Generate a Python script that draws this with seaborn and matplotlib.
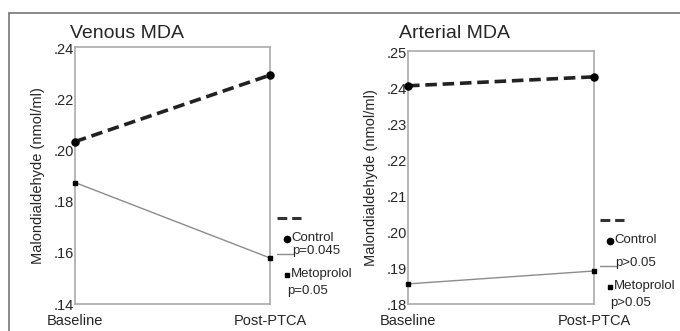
import pandas as pd
import matplotlib.pyplot as plt
import seaborn as sns
from matplotlib.lines import Line2D

times = ['Baseline', 'Post-PTCA']
venous_control = [0.2035, 0.2295]
venous_metoprolol = [0.1875, 0.1580]
arterial_control = [0.2408, 0.2433]
arterial_metoprolol = [0.1856, 0.1892]

venous_ticks = [0.14, 0.16, 0.18, 0.20, 0.22, 0.24]
arterial_ticks = [0.18, 0.19, 0.20, 0.21, 0.22, 0.23, 0.24, 0.25]

sns.set_style('white')
plt.rcParams['font.family'] = ['Liberation Sans', 'DejaVu Sans']

fig = plt.figure(figsize=(6.8, 3.31), dpi=100)
W, H = 680, 331
FS = 10.5
LFS = 9.5


def px(x, y):
    return x / W, 1 - y / H


def box(x0, y0, x1, y1):
    return [x0 / W, 1 - y1 / H, (x1 - x0) / W, (y1 - y0) / H]


# outer frame (top and left only visible)
fig.add_artist(Line2D([9 / W, 1], [1 - 13 / H] * 2, color='#777777', lw=1.2))
fig.add_artist(Line2D([9 / W] * 2, [0, 1 - 13 / H], color='#777777', lw=1.2))


def panel(rect, title, title_x, control, meto, ticks, ylim, p1, p2, leg_x, leg_y):
    ax = fig.add_axes(rect)
    df_c = pd.DataFrame({'x': [0, 1], 'y': control})
    df_m = pd.DataFrame({'x': [0, 1], 'y': meto})
    sns.lineplot(data=df_m, x='x', y='y', ax=ax, color='#8c8c8c', lw=1.0)
    sns.lineplot(data=df_c, x='x', y='y', ax=ax, color='#222222', lw=2.6,
                 linestyle=(0, (3.2, 1.6)))
    ax.scatter([0, 1], control, color='black', s=26, zorder=5, clip_on=False)
    ax.scatter([0, 1], meto, color='black', s=12, marker='s', zorder=5, clip_on=False)
    ax.set_xlim(0, 1)
    ax.set_ylim(*ylim)
    ax.set_xticks([0, 1])
    ax.set_xticklabels(times, fontsize=FS)
    ax.set_yticks(ticks)
    ax.set_yticklabels([f'{t:.2f}'.lstrip('0') for t in ticks], fontsize=FS)
    ax.tick_params(axis='both', length=3, width=0.8, color='#999999', pad=1,
                   direction='in')
    ax.tick_params(axis='x', pad=7)
    for s in ax.spines.values():
        s.set_color('#aaaaaa')
        s.set_linewidth(1.2)
    ax.set_xlabel('')
    ax.set_ylabel('Malondialdehyde (nmol/ml)', fontsize=FS, labelpad=6)
    fig.text(*px(title_x, 33), title, fontsize=14, va='center', ha='left')

    # legend block
    lx, ly = leg_x, leg_y
    fig.add_artist(Line2D([lx / W, (lx + 24) / W], [1 - ly / H] * 2,
                          color='#333333', lw=2.2, linestyle=(0, (3.2, 1.6))))
    fig.add_artist(Line2D([(lx + 10) / W], [1 - (ly + 21) / H], marker='o',
                          color='black', ms=4.5, lw=0))
    fig.text(*px(lx + 14, ly + 20), 'Control', fontsize=LFS, va='center')
    fig.add_artist(Line2D([lx / W, (lx + 16) / W], [1 - (ly + 36 + p1) / H] * 2,
                          color='#8c8c8c', lw=1.0))
    fig.text(*px(lx + 15, ly + 33 + p1), p2[0], fontsize=LFS, va='center')
    fig.add_artist(Line2D([(lx + 10) / W], [1 - (ly + 57 + p1) / H], marker='s',
                          color='black', ms=2.6, lw=0))
    fig.text(*px(lx + 14, ly + 56 + p1), 'Metoprolol', fontsize=LFS, va='center')
    fig.text(*px(lx + 10, ly + 73 + p1), p2[1], fontsize=LFS, va='center')
    return ax


panel(box(75, 47, 270, 304), 'Venous MDA', 70, venous_control, venous_metoprolol,
      venous_ticks, (0.14, 0.2405), 0, ('p=0.045', 'p=0.05'), 277, 218)
panel(box(408, 51, 594, 304), 'Arterial MDA', 399, arterial_control, arterial_metoprolol,
      arterial_ticks, (0.18, 0.2505), 10, ('p>0.05', 'p>0.05'), 600, 220)

fig.savefig('out.png', dpi=100)
